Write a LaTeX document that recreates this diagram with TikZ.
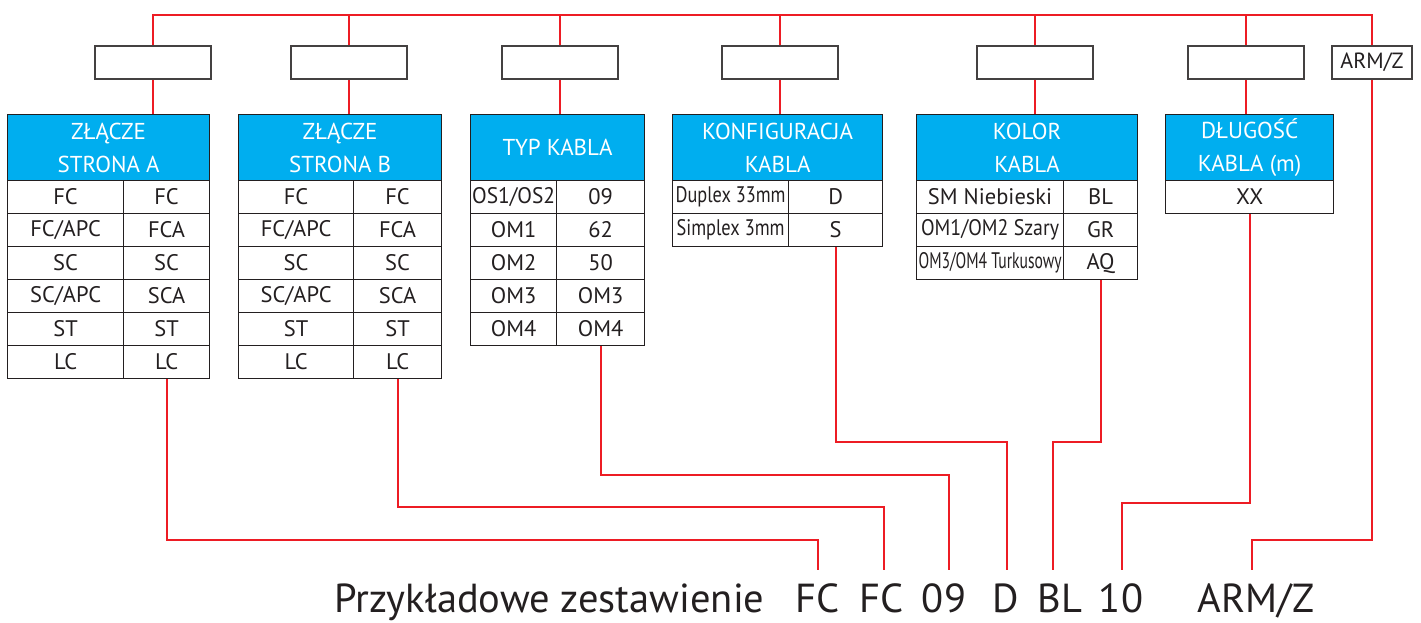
\documentclass[tikz,border=0pt]{standalone}
\usepackage{fontspec}
\setmainfont{PT Sans}
\usepackage{graphicx}
\definecolor{lred}{HTML}{ED1C24}
\definecolor{hblue}{HTML}{00AEEF}
\definecolor{ink}{HTML}{231F20}
\newcommand\sq[2]{\resizebox{#1}{\height}{#2}}
\def\sl{/}
\begin{document}
\begin{tikzpicture}[x=1pt,y=-1pt,
 conn/.style={draw=lred, line width=2pt},
 cell/.style={draw=ink, line width=1.2pt, inner sep=0pt, minimum height=33pt, text=ink, font=\fontsize{22.5}{24}\selectfont, anchor=north west},
 hdr/.style={cell, fill=hblue, text=white, minimum height=66pt, align=center, font=\fontsize{23}{33}\selectfont},
 topbox/.style={draw=ink!85, line width=1.2pt, minimum width=116pt, minimum height=33pt, inner sep=0pt, fill=white},
 big/.style={font=\fontsize{40.5}{48}\selectfont, text=ink, anchor=base, inner sep=0pt}]
\useasboundingbox (0,0) rectangle (1421,622);

% level coordinates
\coordinate (bus) at (0,15);
\coordinate (lvA) at (0,540);
\coordinate (lvB) at (0,507);
\coordinate (lvC) at (0,475);
\coordinate (lvD) at (0,442);
\coordinate (lvF) at (0,503);
\coordinate (eA) at (818,570);
\coordinate (eB) at (884,570);
\coordinate (eC) at (949,570);
\coordinate (eD) at (1007,570);
\coordinate (eE) at (1053,570);
\coordinate (eF) at (1122,570);
\coordinate (eG) at (1252,570);

% top boxes
\node[topbox] (bA) at (153,62.5) {};
\node[topbox] (bB) at (349,62.5) {};
\node[topbox] (bC) at (560,62.5) {};
\node[topbox] (bD) at (780,62.5) {};
\node[topbox] (bE) at (1035,62.5) {};
\node[topbox] (bF) at (1246,62.5) {};
\node[topbox, minimum width=80pt, text=ink, font=\fontsize{22}{24}\selectfont] (bG) at (1372,62.5) {ARM/Z};

% headers
\node[hdr, minimum width=202pt] (hA) at (7,114) {ZŁĄCZE\\STRONA A};
\node[hdr, minimum width=203pt] (hB) at (238,114) {ZŁĄCZE\\STRONA B};
\node[hdr, minimum width=174pt] (hC) at (470,114) {TYP KABLA};
\node[hdr, minimum width=210pt] (hD) at (672,114) {KONFIGURACJA\\KABLA};
\node[hdr, minimum width=221pt] (hE) at (916,114) {KOLOR\\KABLA};
\node[hdr, minimum width=168pt] (hF) at (1165,114) {DŁUGOŚĆ\\KABLA (m)};

% table A
\foreach \l/\r [count=\i] in {FC/FC, FC\sl APC/FCA, SC/SC, SC\sl APC/SCA, ST/ST, LC/LC} {
  \node[cell, minimum width=116pt] (a-\i-1) at (7,147+33*\i) {\l};
  \node[cell, minimum width=86pt] (a-\i-2) at (123,147+33*\i) {\r};
}
% table B
\foreach \l/\r [count=\i] in {FC/FC, FC\sl APC/FCA, SC/SC, SC\sl APC/SCA, ST/ST, LC/LC} {
  \node[cell, minimum width=115pt] (b-\i-1) at (238,147+33*\i) {\l};
  \node[cell, minimum width=88pt] (b-\i-2) at (353,147+33*\i) {\r};
}
% table C
\node[cell, minimum width=86pt] (c-1-1) at (470,180) {\sq{83pt}{OS1/OS2}};
\node[cell, minimum width=88pt] (c-1-2) at (556,180) {09};
\foreach \l/\r [count=\j] in {OM1/62, OM2/50, OM3/OM3, OM4/OM4} {
  \pgfmathtruncatemacro\i{\j+1}
  \node[cell, minimum width=86pt] (c-\i-1) at (470,147+33*\i) {\l};
  \node[cell, minimum width=88pt] (c-\i-2) at (556,147+33*\i) {\r};
}
% table D
\node[cell, minimum width=116pt] (d-1-1) at (672,180) {\sq{110pt}{Duplex 33mm}};
\node[cell, minimum width=94pt] (d-1-2) at (788,180) {D};
\node[cell, minimum width=116pt] (d-2-1) at (672,213) {\sq{108pt}{Simplex 3mm}};
\node[cell, minimum width=94pt] (d-2-2) at (788,213) {S};
% table E
\node[cell, minimum width=147pt] (e-1-1) at (916,180) {SM Niebieski};
\node[cell, minimum width=74pt] (e-1-2) at (1063,180) {BL};
\node[cell, minimum width=147pt] (e-2-1) at (916,213) {\sq{138pt}{OM1/OM2 Szary}};
\node[cell, minimum width=74pt] (e-2-2) at (1063,213) {GR};
\node[cell, minimum width=147pt] (e-3-1) at (916,246) {\sq{143pt}{OM3/OM4 Turkusowy}};
\node[cell, minimum width=74pt] (e-3-2) at (1063,246) {AQ};
% table F
\node[cell, minimum width=168pt] (f-1-1) at (1165,180) {XX};

% bottom text
\node[big, anchor=base west] (w0) at (334,612) {Przykładowe zestawienie};
\node[big] (w1) at (818,612) {FC};
\node[big] (w2) at (882,612) {FC};
\node[big] (w3) at (944,612) {09};
\node[big] (w4) at (1006,612) {D};
\node[big] (w5) at (1060,612) {BL};
\node[big] (w6) at (1121,612) {10};
\node[big] (w7) at (1256,612) {ARM/Z};

% top bus
\draw[conn] (bA.north) -- (bA.north |- bus) -- (bG.north |- bus) -- (bG.north);
\foreach \b in {bB,bC,bD,bE,bF} \draw[conn] (\b.north) -- (\b.north |- bus);
% boxes to headers
\foreach \b/\h in {bA/hA,bB/hB,bC/hC,bD/hD,bE/hE,bF/hF} \draw[conn] (\b.south) -- (\b.south |- \h.north);

% bottom connectors
\draw[conn] (a-6-2.south) -- (a-6-2.south |- lvA) -| (eA);
\draw[conn] (b-6-2.south) -- (b-6-2.south |- lvB) -| (eB);
\draw[conn] (c-5-2.south) -- (c-5-2.south |- lvC) -| (eC);
\draw[conn] (d-2-2.south) -- (d-2-2.south |- lvD) -| (eD);
\draw[conn] (e-3-2.south) -- (e-3-2.south |- lvD) -| (eE);
\draw[conn] (f-1-1.south) -- (f-1-1.south |- lvF) -| (eF);
\draw[conn] (bG.south) -- (bG.south |- lvA) -| (eG);
\end{tikzpicture}
\end{document}
